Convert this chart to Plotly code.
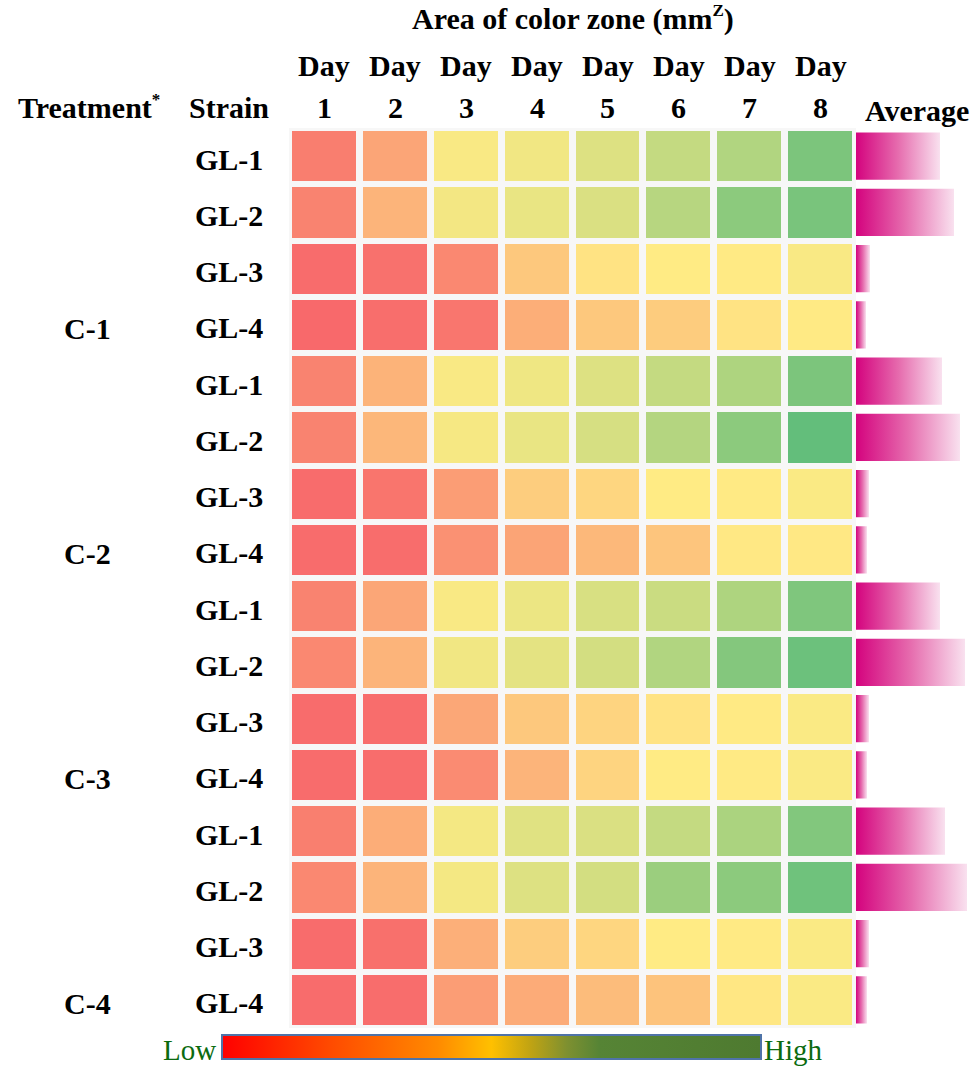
import plotly.graph_objects as go

# ---------------- data ----------------
days = ["1", "2", "3", "4", "5", "6", "7", "8"]
treatments = ["C-1", "C-2", "C-3", "C-4"]
strains = ["GL-1", "GL-2", "GL-3", "GL-4"]
row_strains = strains * 4

# relative colour-zone area per day (0 = lowest, 1 = highest), rows C-1/GL-1 ... C-4/GL-4
zone_c1_gl1 = [0.08, 0.23, 0.52, 0.545, 0.61, 0.69, 0.75, 0.92]
zone_c1_gl2 = [0.10, 0.29, 0.54, 0.57, 0.62, 0.73, 0.87, 0.93]
zone_c1_gl3 = [0.01, 0.03, 0.12, 0.365, 0.47, 0.50, 0.495, 0.52]
zone_c1_gl4 = [0.00, 0.02, 0.05, 0.265, 0.365, 0.38, 0.47, 0.495]
zone_c2_gl1 = [0.10, 0.285, 0.52, 0.55, 0.61, 0.69, 0.76, 0.92]
zone_c2_gl2 = [0.10, 0.30, 0.53, 0.57, 0.63, 0.74, 0.87, 1.00]
zone_c2_gl3 = [0.01, 0.045, 0.20, 0.385, 0.42, 0.50, 0.495, 0.515]
zone_c2_gl4 = [0.01, 0.015, 0.155, 0.225, 0.305, 0.355, 0.49, 0.49]
zone_c3_gl1 = [0.10, 0.235, 0.52, 0.56, 0.625, 0.67, 0.76, 0.91]
zone_c3_gl2 = [0.12, 0.29, 0.545, 0.585, 0.64, 0.75, 0.895, 0.97]
zone_c3_gl3 = [0.01, 0.015, 0.24, 0.365, 0.41, 0.47, 0.495, 0.515]
zone_c3_gl4 = [0.01, 0.015, 0.13, 0.29, 0.41, 0.50, 0.495, 0.515]
zone_c4_gl1 = [0.085, 0.26, 0.535, 0.60, 0.62, 0.69, 0.77, 0.90]
zone_c4_gl2 = [0.12, 0.29, 0.535, 0.61, 0.64, 0.82, 0.87, 0.96]
zone_c4_gl3 = [0.01, 0.025, 0.27, 0.385, 0.42, 0.50, 0.495, 0.515]
zone_c4_gl4 = [0.01, 0.015, 0.20, 0.255, 0.32, 0.345, 0.485, 0.515]

zone_area = [
    zone_c1_gl1, zone_c1_gl2, zone_c1_gl3, zone_c1_gl4,
    zone_c2_gl1, zone_c2_gl2, zone_c2_gl3, zone_c2_gl4,
    zone_c3_gl1, zone_c3_gl2, zone_c3_gl3, zone_c3_gl4,
    zone_c4_gl1, zone_c4_gl2, zone_c4_gl3, zone_c4_gl4,
]

# average area (relative units)
average_area = [84, 98, 14, 10, 86, 104, 13, 11, 84, 109, 13, 11, 89, 111, 13, 11]

# ---------------- helpers ----------------
W, H = 972, 1066


def px(x):
    return x / W


def py(y):
    return 1 - y / H


heat_scale = [[0, "#F8696B"], [0.5, "#FFEB84"], [1, "#63BE7B"]]
bar_scale = [[0, "#d4037e"], [0.5, "#e66cae"], [1, "#f9e1ef"]]
legend_scale = [
    [0.0, "#ff0000"], [0.2, "#ff4a00"], [0.4, "#ff8a00"], [0.5, "#ffc000"],
    [0.57, "#c2a412"], [0.64, "#7e9030"], [0.70, "#568435"], [1.0, "#4e7a30"],
]

FONT = "Liberation Serif, Times New Roman, serif"
bold = dict(family=FONT, size=30, color="black", weight="bold")

fig = go.Figure()

fig.add_trace(go.Heatmap(
    z=zone_area, x=list(range(len(days))), y=list(range(len(row_strains))),
    colorscale=heat_scale, zmin=0, zmax=1, xgap=7, ygap=6,
    showscale=False, hoverinfo="skip",
))

half = 0.42
for i, v in enumerate(average_area):
    fig.add_trace(go.Scatter(
        x=[0, v, v, 0, 0], y=[i - half, i - half, i + half, i + half, i - half],
        xaxis="x2", yaxis="y", mode="lines", line=dict(width=0),
        fill="toself",
        fillgradient=dict(type="horizontal", colorscale=bar_scale),
        showlegend=False, hoverinfo="skip",
    ))

# Low / High colour key
fig.add_trace(go.Scatter(
    x=[0], y=[0], mode="markers", showlegend=False, hoverinfo="skip",
    marker=dict(
        color=[0], opacity=0, colorscale=legend_scale, cmin=0, cmax=1, showscale=True,
        colorbar=dict(
            orientation="h", thickness=24, len=539, lenmode="pixels",
            x=px(491.5), xanchor="center", y=py(1035), yanchor="top",
            xpad=0, ypad=0, outlinecolor="#4f73a8", outlinewidth=2,
            showticklabels=False, ticks="",
        ),
    ),
))


def label(text, x, y, xref="paper", yref="paper", font=bold, xanchor="center", yshift=0):
    return dict(text=text, x=x, y=y, xref=xref, yref=yref, showarrow=False,
                font=font, xanchor=xanchor, yanchor="middle", yshift=yshift)


ann = []
ann.append(label("Area of color zone (mm<sup><span style='font-size:17px'>Z</span></sup>)",
                 3.5, py(18), xref="x"))
for j, d in enumerate(days):
    ann.append(label("Day", j, py(66), xref="x"))
    ann.append(label(d, j, py(107), xref="x"))
ann.append(label("Treatment<sup><span style='font-size:17px'>*</span></sup>", px(89), py(107)))
ann.append(label("Strain", px(229), py(107)))
ann.append(label("Average", px(917), py(110)))
for i, s in enumerate(row_strains):
    ann.append(label(s, px(229), i, yref="y", yshift=-3))
for k, t in enumerate(treatments):
    ann.append(label(t, px(87), 4 * k + 3, yref="y", yshift=-4))
green = dict(family=FONT, size=29, color="#0b6b10")
ann.append(label("Low", px(218), py(1050), font=green, xanchor="right"))
ann.append(label("High", px(762), py(1050), font=green, xanchor="left"))

fig.update_layout(
    width=W, height=H, margin=dict(l=0, r=0, t=0, b=0, autoexpand=False),
    paper_bgcolor="white", plot_bgcolor="white",
    xaxis=dict(domain=[px(289), px(856)], range=[-0.5, 7.5], visible=False, fixedrange=True),
    yaxis=dict(domain=[py(1028), py(128)], range=[15.5, -0.5], visible=False, fixedrange=True),
    xaxis2=dict(domain=[px(856), 1], range=[0, 116], anchor="y", visible=False, fixedrange=True),
    annotations=ann,
    shapes=[dict(type="rect", xref="x domain", yref="y domain", x0=0, x1=1, y0=0, y1=1,
                 fillcolor="#f7f7f7", line=dict(width=0), layer="below")],
    showlegend=False,
)

fig.write_html("out.html", config={"displayModeBar": False},
               post_script="document.body.style.margin='0';")
